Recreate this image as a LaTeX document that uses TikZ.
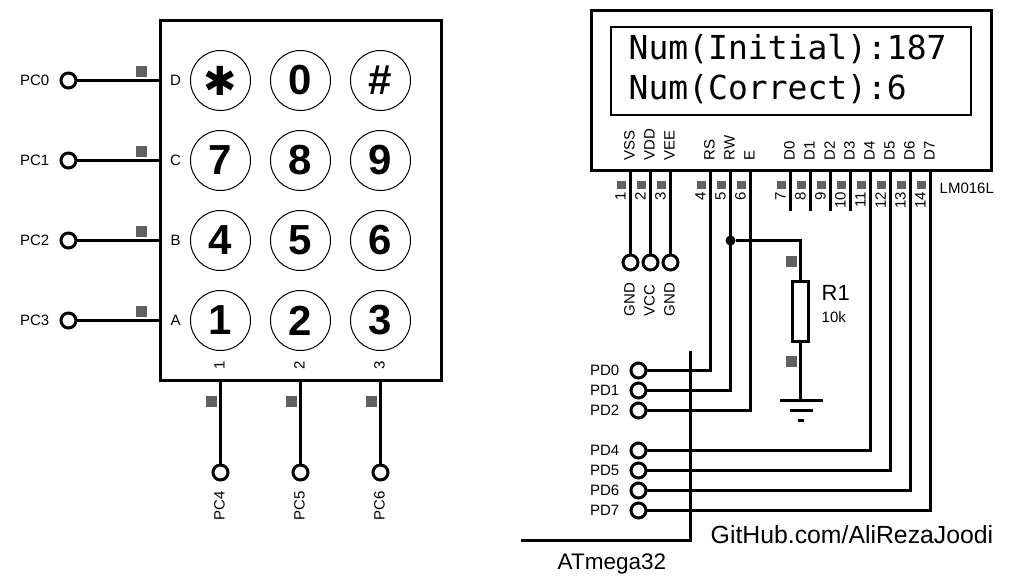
\documentclass[tikz,border=0pt]{standalone}
\usepackage{fontspec}
\setmainfont{Liberation Sans}
\newfontfamily\lcdFont{DejaVu Sans Mono}
\newfontfamily\starFont{DejaVu Sans}
\tikzset{
	wire/.style={line width=3pt},
	term/.style={circle,draw,fill=white,line width=3pt,minimum size=15pt,inner sep=0pt,outer sep=0pt},
	keybtn/.style={circle,draw,line width=1pt,minimum size=60pt,inner sep=0pt,font=\fontsize{42}{42}\selectfont\bfseries},
	lbl/.style={inner sep=0pt,font=\fontsize{15}{15}\selectfont},
	vlbl/.style={lbl,rotate=90,anchor=west},
	pinnum/.style={lbl,rotate=90,anchor=east},
	pinmark/.style={black!62}
}
\begin{document}
\begin{tikzpicture}[x=1pt,y=-1pt]
	\useasboundingbox (-0.5,-0.5) rectangle (1010.5,580.5);
	
	% keypad body and buttons
	\node[draw,line width=3pt,outer sep=0pt,minimum width=281pt,minimum height=360pt] (keypad) at (300.5,200) {};
	\node[keybtn,font=\fontsize{40}{40}\selectfont\starFont] (btnStar) at (220,80) {✱};
	\node[keybtn] (btn0) at (300,80) {0};
	\node[keybtn] (btnHash) at (380,80) {\#};
	\node[keybtn] (btn7) at (220,160) {7};
	\node[keybtn] (btn8) at (300,160) {8};
	\node[keybtn] (btn9) at (380,160) {9};
	\node[keybtn] (btn4) at (220,240) {4};
	\node[keybtn] (btn5) at (300,240) {5};
	\node[keybtn] (btn6) at (380,240) {6};
	\node[keybtn] (btn1) at (220,320) {1};
	\node[keybtn] (btn2) at (300,320) {2};
	\node[keybtn] (btn3) at (380,320) {3};
	
	% keypad row and column letters
	\node[lbl] (rowD) at (175,80) {D};
	\node[lbl] (rowC) at (175,160) {C};
	\node[lbl] (rowB) at (175,240) {B};
	\node[lbl] (rowA) at (175,320) {A};
	\node[lbl,rotate=90] (colOne) at (219,365) {1};
	\node[lbl,rotate=90] (colTwo) at (299,365) {2};
	\node[lbl,rotate=90] (colThree) at (379,365) {3};
	
	% keypad rows
	\node[term] (termPC0) at (68,80) {};
	\node[term] (termPC1) at (68,160) {};
	\node[term] (termPC2) at (68,240) {};
	\node[term] (termPC3) at (68,320) {};
	\draw[wire] (termPC0) -- (termPC0 -| keypad.west);
	\draw[wire] (termPC1) -- (termPC1 -| keypad.west);
	\draw[wire] (termPC2) -- (termPC2 -| keypad.west);
	\draw[wire] (termPC3) -- (termPC3 -| keypad.west);
	\node[lbl,anchor=east] (lblPC0) at (49,80) {PC0};
	\node[lbl,anchor=east] (lblPC1) at (49,160) {PC1};
	\node[lbl,anchor=east] (lblPC2) at (49,240) {PC2};
	\node[lbl,anchor=east] (lblPC3) at (49,320) {PC3};
	
	% keypad columns
	\node[term] (termPC4) at (220,472) {};
	\node[term] (termPC5) at (300,472) {};
	\node[term] (termPC6) at (380,472) {};
	\draw[wire] (termPC4) -- (termPC4 |- keypad.south);
	\draw[wire] (termPC5) -- (termPC5 |- keypad.south);
	\draw[wire] (termPC6) -- (termPC6 |- keypad.south);
	\node[vlbl] (lblPC4) at (219,520) {PC4};
	\node[vlbl] (lblPC5) at (299,520) {PC5};
	\node[vlbl] (lblPC6) at (379,520) {PC6};
	
	% keypad pin marks
	\fill[pinmark] (135,65) rectangle (146,76);
	\fill[pinmark] (135,145) rectangle (146,156);
	\fill[pinmark] (135,225) rectangle (146,236);
	\fill[pinmark] (135,305) rectangle (146,316);
	\fill[pinmark] (205,395) rectangle (216,406);
	\fill[pinmark] (285,395) rectangle (296,406);
	\fill[pinmark] (365,395) rectangle (376,406);
	
	% lcd body and screen
	\node[draw,line width=3pt,outer sep=0pt,minimum width=400pt,minimum height=160pt] (lcd) at (790.5,90) {};
	\node[draw,line width=2pt,outer sep=0pt,minimum width=360pt,minimum height=88pt] (screen) at (790.5,70) {};
	\node[inner sep=0pt,anchor=west,font=\fontsize{33}{33}\selectfont\lcdFont] (lineOne) at (628,49) {Num(Initial):187};
	\node[inner sep=0pt,anchor=west,font=\fontsize{33}{33}\selectfont\lcdFont] (lineTwo) at (628,89) {Num(Correct):6};
	\node[lbl,anchor=west] (lblLcd) at (939,188) {LM016L};
	
	% lcd pin names
	\node[vlbl] (nameVSS) at (629,160) {VSS};
	\node[vlbl] (nameVDD) at (649,160) {VDD};
	\node[vlbl] (nameVEE) at (669,160) {VEE};
	\node[vlbl] (nameRS) at (709,160) {RS};
	\node[vlbl] (nameRW) at (729,160) {RW};
	\node[vlbl] (nameE) at (749,160) {E};
	\node[vlbl] (nameD0) at (789,160) {D0};
	\node[vlbl] (nameD1) at (809,160) {D1};
	\node[vlbl] (nameD2) at (829,160) {D2};
	\node[vlbl] (nameD3) at (849,160) {D3};
	\node[vlbl] (nameD4) at (869,160) {D4};
	\node[vlbl] (nameD5) at (889,160) {D5};
	\node[vlbl] (nameD6) at (909,160) {D6};
	\node[vlbl] (nameD7) at (929,160) {D7};
	
	% lcd pin numbers
	\node[pinnum] (num1) at (620,191) {1};
	\node[pinnum] (num2) at (640,191) {2};
	\node[pinnum] (num3) at (660,191) {3};
	\node[pinnum] (num4) at (700,191) {4};
	\node[pinnum] (num5) at (720,191) {5};
	\node[pinnum] (num6) at (740,191) {6};
	\node[pinnum] (num7) at (780,191) {7};
	\node[pinnum] (num8) at (800,191) {8};
	\node[pinnum] (num9) at (820,191) {9};
	\node[pinnum] (num10) at (840,191) {10};
	\node[pinnum] (num11) at (860,191) {11};
	\node[pinnum] (num12) at (880,191) {12};
	\node[pinnum] (num13) at (900,191) {13};
	\node[pinnum] (num14) at (920,191) {14};
	
	% lcd pin marks
	\fill[pinmark] (616,180) rectangle (625,188);
	\fill[pinmark] (636,180) rectangle (645,188);
	\fill[pinmark] (656,180) rectangle (665,188);
	\fill[pinmark] (696,180) rectangle (705,188);
	\fill[pinmark] (716,180) rectangle (725,188);
	\fill[pinmark] (736,180) rectangle (745,188);
	\fill[pinmark] (776,180) rectangle (785,188);
	\fill[pinmark] (796,180) rectangle (805,188);
	\fill[pinmark] (816,180) rectangle (825,188);
	\fill[pinmark] (836,180) rectangle (845,188);
	\fill[pinmark] (856,180) rectangle (865,188);
	\fill[pinmark] (876,180) rectangle (885,188);
	\fill[pinmark] (896,180) rectangle (905,188);
	\fill[pinmark] (916,180) rectangle (925,188);
	
	% power pins
	\node[term] (termGndA) at (630,262) {};
	\node[term] (termVcc) at (650,262) {};
	\node[term] (termGndB) at (670,262) {};
	\draw[wire] (termGndA) -- (termGndA |- lcd.south);
	\draw[wire] (termVcc) -- (termVcc |- lcd.south);
	\draw[wire] (termGndB) -- (termGndB |- lcd.south);
	\node[vlbl] (lblGndA) at (629,316) {GND};
	\node[vlbl] (lblVcc) at (649,316) {VCC};
	\node[vlbl] (lblGndB) at (669,316) {GND};
	
	% unused data pins
	\coordinate (stubD0) at (790,210);
	\coordinate (stubD1) at (810,210);
	\coordinate (stubD2) at (830,210);
	\coordinate (stubD3) at (850,210);
	\draw[wire] (stubD0) -- (stubD0 |- lcd.south);
	\draw[wire] (stubD1) -- (stubD1 |- lcd.south);
	\draw[wire] (stubD2) -- (stubD2 |- lcd.south);
	\draw[wire] (stubD3) -- (stubD3 |- lcd.south);
	
	% controller bus line
	\coordinate (busTop) at (690,350);
	\coordinate (busCorner) at (690,540);
	\coordinate (busEnd) at (520,540);
	\draw[wire] (busTop) -- (busCorner) -- (busEnd);
	\node[inner sep=0pt,anchor=west,font=\fontsize{22.5}{22.5}\selectfont] (lblMcu) at (557,563) {ATmega32};
	\node[inner sep=0pt,anchor=west,font=\fontsize{24.8}{24.8}\selectfont] (lblLink) at (710,534) {GitHub.com/AliRezaJoodi};
	
	% port d wires
	\node[term] (termPD0) at (638,370) {};
	\node[term] (termPD1) at (638,390) {};
	\node[term] (termPD2) at (638,410) {};
	\node[term] (termPD4) at (638,450) {};
	\node[term] (termPD5) at (638,470) {};
	\node[term] (termPD6) at (638,490) {};
	\node[term] (termPD7) at (638,510) {};
	\coordinate (pinRS) at (710,170);
	\coordinate (pinRW) at (730,170);
	\coordinate (pinE) at (750,170);
	\coordinate (pinD4) at (870,170);
	\coordinate (pinD5) at (890,170);
	\coordinate (pinD6) at (910,170);
	\coordinate (pinD7) at (930,170);
	\draw[wire] (termPD0) -| (pinRS);
	\draw[wire] (termPD1) -| (pinRW);
	\draw[wire] (termPD2) -| (pinE);
	\draw[wire] (termPD4) -| (pinD4);
	\draw[wire] (termPD5) -| (pinD5);
	\draw[wire] (termPD6) -| (pinD6);
	\draw[wire] (termPD7) -| (pinD7);
	\node[lbl,anchor=east] (lblPD0) at (619,370) {PD0};
	\node[lbl,anchor=east] (lblPD1) at (619,390) {PD1};
	\node[lbl,anchor=east] (lblPD2) at (619,410) {PD2};
	\node[lbl,anchor=east] (lblPD4) at (619,450) {PD4};
	\node[lbl,anchor=east] (lblPD5) at (619,470) {PD5};
	\node[lbl,anchor=east] (lblPD6) at (619,490) {PD6};
	\node[lbl,anchor=east] (lblPD7) at (619,510) {PD7};
	
	% pull-down resistor and ground
	\node[circle,fill=black,minimum size=10pt,inner sep=0pt] (junc) at (730,240) {};
	\node[draw,line width=2.5pt,fill=white,outer sep=0pt,minimum width=16pt,minimum height=60pt] (resOne) at (800,311) {};
	\coordinate (gndTop) at (800,400);
	\draw[wire] (junc) -| (resOne.north);
	\draw[wire] (resOne.south) -- (gndTop);
	\draw[wire] (779,400) -- (822,400);
	\draw[wire] (789,410) -- (812,410);
	\draw[wire] (797,420) -- (803,420);
	\fill[pinmark] (785,255) rectangle (796,266);
	\fill[pinmark] (785,355) rectangle (796,366);
	\node[inner sep=0pt,anchor=west,font=\fontsize{22}{22}\selectfont] (lblROne) at (821,292) {R1};
	\node[lbl,anchor=west] (lblRVal) at (821,317) {10k};
\end{tikzpicture}
\end{document}
